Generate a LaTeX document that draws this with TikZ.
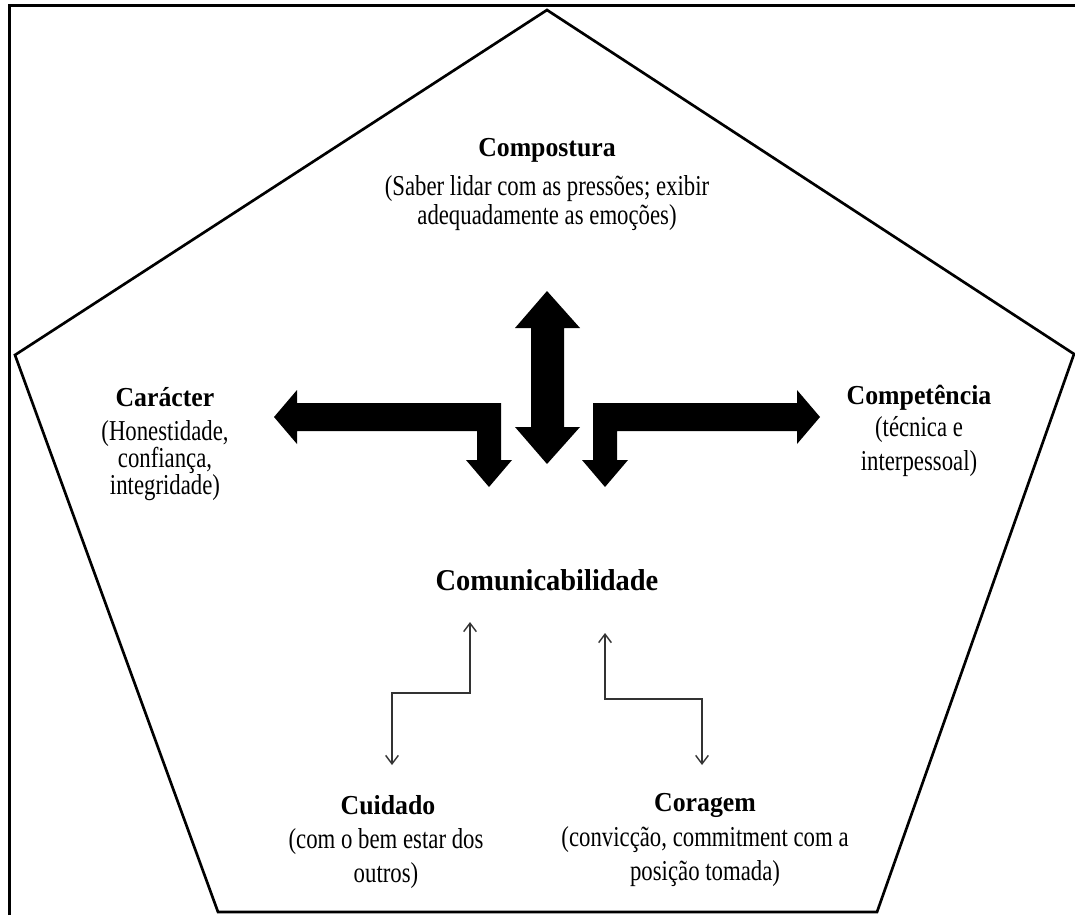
\documentclass[tikz,border=0pt]{standalone}
\usepackage{fontspec}
\setmainfont{Liberation Serif}
\newfontfamily\headfont[FakeStretch=0.94]{Liberation Serif}
\newfontfamily\descfont[FakeStretch=0.79]{Liberation Serif}
\usetikzlibrary{arrows.meta}

\begin{document}
\begin{tikzpicture}[x=0.025cm, y=-0.025cm, >={Straight Barb[length=6pt,width=9pt]},
	head/.style={font=\headfont\fontsize{19.5}{22}\selectfont\bfseries, inner sep=0pt},
	desc/.style={font=\descfont\fontsize{20.5}{20.2}\selectfont, align=center, inner sep=0pt},
	block/.style={fill=black},
	thin/.style={<->, draw=black!80, line width=1pt}]
	
	\useasboundingbox (0,0) rectangle (1075,915);
	
	%========================
	% frame and pentagon
	%========================
	\draw[line width=2.2pt] (9.5,915) -- (9.5,5.5) -- (1075,5.5);
	\draw[line width=1.9pt, line join=miter]
	(547,10) -- (1074,354) -- (877,912) -- (218,912) -- (15,355) -- cycle;
	
	%========================
	% the five C's
	%========================
	\node[head] (compostura) at (547,150) {Compostura};
	\node[desc] (compDesc) at (547,203) {(Saber lidar com as pressões; exibir\\adequadamente as emoções)};
	
	\node[head] (caracter) at (165,397) {Carácter};
	\node[desc] (carDesc) at (165,461) {(Honestidade,\\[-1pt]confiança,\\[-1pt]integridade)};
	
	\node[head] (competencia) at (919,398) {Competência};
	\node[desc] (compeDesc) at (919,447) {(técnica e\\[4pt]interpessoal)};
	
	\node[head, font=\headfont\fontsize{21.5}{24}\selectfont\bfseries] (comunic) at (547,580) {Comunicabilidade};
	
	\node[head] (cuidado) at (388,805) {Cuidado};
	\node[desc] (cuiDesc) at (386,859) {(com o bem estar dos\\[4pt]outros)};
	
	\node[head] (coragem) at (705,805) {Coragem};
	\node[desc] (corDesc) at (705,857) {(convicção, commitment com a\\[4pt]posição tomada)};
	
	%========================
	% block arrows
	%========================
	% left: to Carácter and down to Comunicabilidade
	\fill[block] (274,417) -- (297,390) -- (297,403) -- (501,403) -- (501,460) -- (512,460)
	-- (489,487) -- (466,460) -- (477,460) -- (477,431) -- (297,431) -- (297,444) -- cycle;
	% middle: Compostura <-> Comunicabilidade
	\fill[block] (547,291) -- (580,328) -- (564,328) -- (564,427) -- (580,427) -- (547,464)
	-- (515,427) -- (531,427) -- (531,328) -- (515,328) -- cycle;
	% right: to Competência and down to Comunicabilidade
	\fill[block] (820,417) -- (797,390) -- (797,403) -- (593,403) -- (593,460) -- (582,460)
	-- (605,487) -- (628,460) -- (617,460) -- (617,431) -- (797,431) -- (797,444) -- cycle;
	
	%========================
	% thin arrows
	%========================
	\coordinate (cuiEnd) at (392,765);
	\coordinate (cuiTop) at (470,622);
	\coordinate (corEnd) at (702,765);
	\coordinate (corTop) at (605,633);
	\draw[thin] (cuiEnd) |- (cuiTop |- 0,693) -- (cuiTop);
	\draw[thin] (corTop) |- (corEnd |- 0,699) -- (corEnd);
	
\end{tikzpicture}
\end{document}
